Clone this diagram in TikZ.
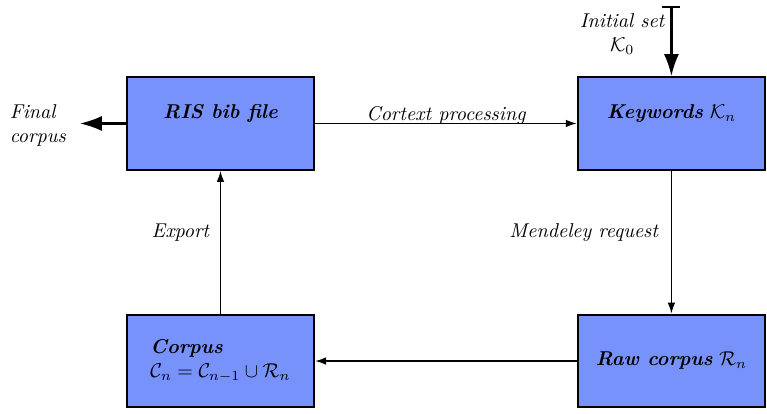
\documentclass[tikz,border=0pt]{standalone}
\usepackage{amsmath}
\usepackage{amssymb}
\usepackage{tikz}
\usetikzlibrary{
    arrows.meta,
    positioning
}
\definecolor{BoxBlue}{RGB}{120,146,252}
\newcommand{\boxtitle}[1]{\textbf{\textit{#1}}}

\begin{document}
\begin{tikzpicture}[
    >=Latex,
    stagebox/.style={
        draw=black,
        line width=1pt,
        fill=BoxBlue,
        minimum width=3.29cm,
        minimum height=1.63cm,
        align=left
    },
    flow/.style={
        ->,
        line width=0.75pt,
        >={Latex[length=5.5pt,width=3.8pt]}
    },
    bigflow/.style={
        line width=1.1pt,
        -{Latex[length=11pt,width=7.5pt]}
    },
    note/.style={
        font=\itshape,
        align=center
    }
]

% Frame
\useasboundingbox (0,0) rectangle (13.48,7.26);

% Boxes
\node[stagebox] (ris) at (3.875,5.09)
    {\boxtitle{RIS bib file}\\ \mbox{}};

\node[stagebox, right=4.6cm of ris] (kw)
    {\boxtitle{Keywords} $\mathcal{K}_n$\\ \mbox{}};

\node[stagebox, below=2.51cm of kw] (raw)
    {\boxtitle{Raw corpus} $\mathcal{R}_n$};

\node[stagebox, below=2.51cm of ris] (corpus)
    {\boxtitle{Corpus}\\
     $\mathcal{C}_n = \mathcal{C}_{n-1} \cup \mathcal{R}_n$};

% Cycle
\draw[flow]
    (ris) -- (kw)
    node[midway, anchor=base, yshift=1.5pt, note] {Cortext processing};

\draw[flow]
    (kw) -- (raw)
    node[pos=0.43, left=3pt, note] {Mendeley request};

\draw[flow]
    (corpus) -- (ris)
    node[pos=0.57, left=2pt, note] {Export};

\draw[flow]
    (raw) -- (corpus);

% Input and output
\coordinate (init) at ([yshift=1.23cm]kw.north);

\node[note, anchor=north east] (initlabel) at (init)
    {Initial set\\ $\mathcal{K}_0$};

\draw[bigflow, {Bar[width=9pt]}-{Latex[length=11pt,width=7.5pt]}]
    (init) -- (kw.north);

\node[note, align=left, anchor=east] (final) at (1.28,5.06)
    {Final\\ corpus};

\draw[bigflow, shorten >=3.5pt]
    (ris.west) -- (final.east |- ris.west);

\end{tikzpicture}
\end{document}
